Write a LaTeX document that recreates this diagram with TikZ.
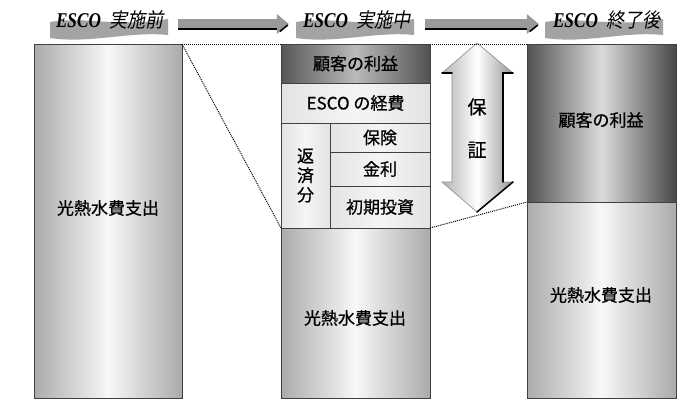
\documentclass[tikz,border=0pt]{standalone}
\usepackage{fontspec}
\setmainfont{Noto Sans CJK JP}
\newfontfamily\jplbl[FakeBold=0.6]{Noto Sans CJK JP}
\newfontfamily\hdjp[FakeSlant=0.2, FakeStretch=0.9]{Noto Sans CJK JP}
\newfontfamily\hdlat[FakeStretch=0.82]{Liberation Serif}
\usetikzlibrary{calc}

% grey block arrow between two header labels
\newcommand\hdarrow[2]{%
  \fill[black!40] let \p1=(#1.east), \p2=(#2.west) in
    (\x1+14pt,\y1+1pt) -- (\x2-26pt,\y1+1pt) -- (\x2-26pt,\y1+6pt) -- (\x2-14pt,\y1-4pt)
    -- (\x2-26pt,\y1-14pt) -- (\x2-26pt,\y1-9pt) -- (\x1+14pt,\y1-9pt) -- cycle;
  \draw[line width=1.6pt] let \p1=(#1.east), \p2=(#2.west) in
    (\x1+14pt,\y1-9pt) -- (\x2-26pt,\y1-9pt)
    (\x2-23pt,\y1-11.5pt) -- (\x2-15pt,\y1-5pt);
}
\newcommand\hdtext[1]{{\hdlat\bfseries\itshape\fontsize{21}{22}\selectfont ESCO}\hspace{9pt}{\hdjp\fontsize{20}{22}\selectfont #1}}

\begin{document}
\begin{tikzpicture}[x=1pt, y=-1pt,
    box/.style={draw=black!75, line width=0.8pt, inner sep=0pt, outer sep=0pt, anchor=north west, font=\jplbl\fontsize{17}{20}\selectfont},
    mid/.style={left color=black!33, right color=black!33, middle color=black!3},
    dark/.style={left color=black!68, right color=black!72, middle color=black!14},
    darkM/.style={left color=black!66, right color=black!68, middle color=black!27},
    pale/.style={left color=black!11, right color=black!11, middle color=black!4},
    lbl/.style={font=\jplbl\fontsize{17}{20}\selectfont},
    hd/.style={inner sep=0pt},
    link/.style={densely dotted, line width=1pt},
    shadowline/.style={line width=1.5pt, line cap=round}
]
\useasboundingbox (0,0) rectangle (689,399);

% ribbons behind the headings
\foreach \bx in {50,296,545}
  \fill[black!36, shift={(\bx,0)}] (0,22) .. controls (35,16) and (70,28) .. (118,19)
    -- (118,35) .. controls (80,31) and (40,44) .. (0,38) -- cycle;

\node[hd] (h1) at (110,20) {\hdtext{実施前}};
\node[hd] (h2) at (357,20) {\hdtext{実施中}};
\node[hd] (h3) at (607,20) {\hdtext{終了後}};
\hdarrow{h1}{h2}
\hdarrow{h2}{h3}

% before
\node[box, mid, minimum width=148pt, minimum height=354pt] (pre) at (34,44) {};
\node[lbl] (preL) at (108,208) {光熱水費支出};

% during
\node[box, darkM, minimum width=149pt, minimum height=39pt] (profM) at (281,44) {顧客の利益};
\node[box, pale, minimum width=149pt, minimum height=40pt] (costM) at (281,83) {ESCO の経費};
\node[box, pale, minimum width=49pt, minimum height=105pt, align=center,
      font=\jplbl\fontsize{17}{19.5}\selectfont] (repay) at (281,123) {返\\済\\分};
\node[box, pale, minimum width=100pt, minimum height=29pt] (ins) at (330,123) {保険};
\node[box, pale, minimum width=100pt, minimum height=34pt] (rate) at (330,152) {金利};
\node[box, pale, minimum width=100pt, minimum height=42pt] (init) at (330,186) {初期投資};
\node[box, mid, minimum width=149pt, minimum height=170pt] (utilM) at (281,228) {};
\node[lbl] (utilML) at (355,318) {光熱水費支出};

% after
\node[box, dark, minimum width=149pt, minimum height=158pt] (profR) at (527,44) {};
\node[lbl] (profRL) at (601,120) {顧客の利益};
\node[box, mid, minimum width=149pt, minimum height=196pt] (utilR) at (527,202) {};
\node[lbl] (utilRL) at (601,295) {光熱水費支出};

% guarantee arrow
\shade[left color=black!30, right color=black!42, middle color=white, draw=black!45, line width=0.6pt]
  (477,43) -- (513,73) -- (503,73) -- (503,182) -- (513,182) -- (477,212)
  -- (442,182) -- (452,182) -- (452,73) -- (442,73) -- cycle;
\draw[shadowline] (513,73) -- (503,73) -- (503,182);
\draw[shadowline] (442,73) -- (452,73);
\draw[shadowline] (513,182) -- (477,212);
\node[font=\jplbl\fontsize{19}{20}\selectfont] (g1) at (477,107) {保};
\node[font=\jplbl\fontsize{19}{20}\selectfont] (g2) at (477,150) {証};

\draw[link] (pre.north east) -- (profM.north west);
\draw[link] (pre.north east) -- (utilM.north west);
\draw[link] (profM.north east) -- (profR.north west);
\draw[link] (utilM.north east) -- (utilR.north west);
\end{tikzpicture}
\end{document}
